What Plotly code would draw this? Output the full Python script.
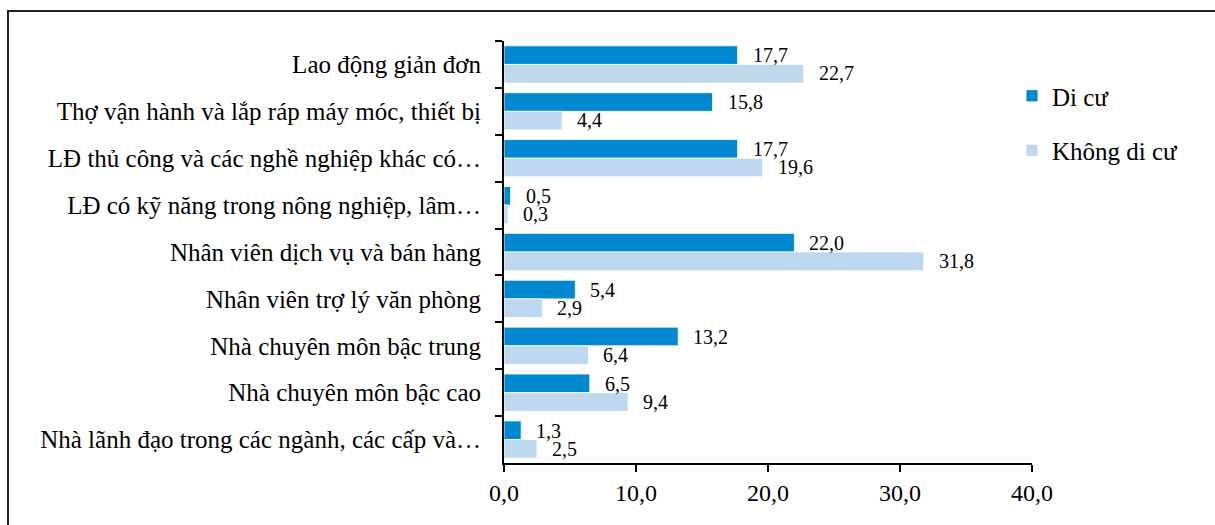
import plotly.graph_objects as go

# Occupation groups, top to bottom
categories = [
    "Lao động giản đơn",
    "Thợ vận hành và lắp ráp máy móc, thiết bị",
    "LĐ thủ công và các nghề nghiệp khác có…",
    "LĐ có kỹ năng trong nông nghiệp, lâm…",
    "Nhân viên dịch vụ và bán hàng",
    "Nhân viên trợ lý văn phòng",
    "Nhà chuyên môn bậc trung",
    "Nhà chuyên môn bậc cao",
    "Nhà lãnh đạo trong các ngành, các cấp và…",
]
migrant = [17.7, 15.8, 17.7, 0.5, 22.0, 5.4, 13.2, 6.5, 1.3]
non_migrant = [22.7, 4.4, 19.6, 0.3, 31.8, 2.9, 6.4, 9.4, 2.5]
series_names = ["Di cư", "Không di cư"]
x_ticks = [0, 10, 20, 30, 40]

DARK = "#0088D1"
LIGHT = "#BDD7EE"
FONT = "'Liberation Serif', 'Times New Roman', 'DejaVu Serif', serif"

W, H = 1215, 525
L, R, T, B = 504, 183, 41, 62

fig = go.Figure()
for name, vals, color, grp in [
    (series_names[0], migrant, DARK, "a"),
    (series_names[1], non_migrant, LIGHT, "b"),
]:
    fig.add_trace(go.Bar(
        y=categories, x=vals, name=name, orientation="h",
        marker=dict(color=color, line=dict(color="white", width=0.8)),
        legendgroup=grp, hoverinfo="x+y",
    ))

# value labels to the right of each bar
annotations = []
for vals, shift in [(migrant, 9.0), (non_migrant, -9.0)]:
    for cat, v in zip(categories, vals):
        annotations.append(dict(
            x=v, y=cat, xref="x", yref="y",
            text=f"{v:.1f}".replace(".", ","),
            showarrow=False, xanchor="left", yanchor="middle",
            xshift=14, yshift=shift, borderpad=0,
            font=dict(family=FONT, size=20, color="#000"),
        ))

# outer frame of the figure
pw = (W - L - R)
ph = (H - T - B)
shapes = [dict(
    type="rect", xref="paper", yref="paper",
    x0=(8 - L) / pw, x1=(W + 20 - L) / pw,
    y0=-(H + 20 - (H - B)) / ph, y1=((H - B) - 11) / ph,
    line=dict(color="#222", width=2), fillcolor="rgba(0,0,0,0)", layer="below",
)]

fig.update_layout(
    width=W, height=H,
    margin=dict(l=L, r=R, t=T, b=B),
    paper_bgcolor="white", plot_bgcolor="white",
    barmode="group", bargap=0.205, bargroupgap=0,
    separators=",.",
    font=dict(family=FONT, size=24, color="#000"),
    showlegend=True,
    legend=dict(
        x=(1012 - L) / pw, y=(H - B - 73) / ph, xanchor="left", yanchor="top",
        traceorder="grouped", tracegroupgap=19,
        font=dict(family=FONT, size=25, color="#000"),
        bgcolor="rgba(0,0,0,0)",
    ),
    annotations=annotations,
    shapes=shapes,
    xaxis=dict(
        range=[0, 40], tickvals=x_ticks, tickformat=".1f",
        showgrid=False, zeroline=False,
        showline=True, linecolor="#000", linewidth=2,
        ticks="outside", ticklen=7, tickwidth=2, tickcolor="#000",
        tickfont=dict(family=FONT, size=24, color="#000"),
    ),
    yaxis=dict(
        autorange="reversed", showgrid=False,
        showline=True, linecolor="#000", linewidth=2,
        ticks="outside", ticklen=7, tickwidth=2, tickcolor="#000",
        tickson="boundaries", ticklabelstandoff=16,
        tickfont=dict(family=FONT, size=25, color="#000"),
    ),
)

fig.write_html("out.html")
